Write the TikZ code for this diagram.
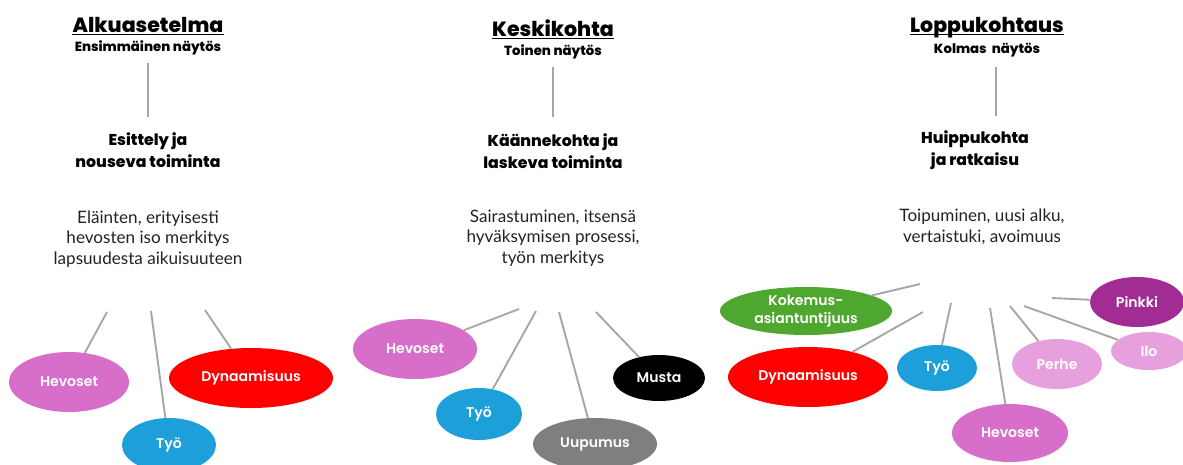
\documentclass[tikz,border=0pt]{standalone}
\usepackage{fontspec}
\setmainfont{Lato}
\newfontfamily\headfont{Poppins ExtraBold}
\newfontfamily\labfont{Poppins SemiBold}
\usetikzlibrary{shapes.geometric}
\definecolor{linegray}{HTML}{A6A6A6}
\definecolor{hevpink}{HTML}{D66ECA}
\definecolor{lightpink}{HTML}{E6A0DE}
\definecolor{purp}{HTML}{A12C94}
\definecolor{grn}{HTML}{4EA72E}
\definecolor{blu}{HTML}{1D9FDA}
\definecolor{rd}{HTML}{FF0000}
\definecolor{gry}{HTML}{7F7F7F}
\definecolor{bodytext}{HTML}{222222}
\tikzset{
  conn/.style={draw=linegray, line width=1.6pt},
  ulstyle/.style={draw=black, line width=1.5pt},
  bubble/.style 2 args={ellipse, inner sep=0pt, text=white, align=center,
    minimum width=#1*0.03cm, minimum height=#2*0.03cm,
    font=\labfont\fontsize{12}{15}\selectfont},
  titletext/.style={inner sep=0pt, anchor=base, font=\headfont\fontsize{17.5}{20}\selectfont},
  subtext/.style={font=\headfont\fontsize{11.3}{12}\selectfont},
  phasetext/.style={font=\headfont\fontsize{13.4}{18.5}\selectfont, align=center},
  bodytxt/.style={font=\fontsize{14.6}{17.5}\selectfont, align=center, text=bodytext},
}
\begin{document}
\begin{tikzpicture}[x=0.03cm, y=-0.03cm]
\useasboundingbox (0,0) rectangle (1183,464);
\clip (0,0) rectangle (1183,464);

% ---------- Column 1 ----------
\node[titletext] (t1) at (148,32) {Alkuasetelma};
\draw[ulstyle] ([yshift=-2.2pt]t1.base west) -- ([yshift=-2.2pt]t1.base east);
\node[subtext] (s1) at (148,48) {Ensimmäinen näytös};
\coordinate (v1a) at (148,63);
\coordinate (v1b) at (148,117);
\draw[conn] (v1a) -- (v1b);
\node[phasetext] (p1) at (148,150) {Esittely ja\\nouseva toiminta};
\node[bodytxt] (b1) at (148,239) {Eläinten, erityisesti\\hevosten iso merkitys\\lapsuudesta aikuisuuteen};

\node[bubble={120}{60}, fill=hevpink] (hev1) at (69,382) {Hevoset};
\node[bubble={94}{54}, fill=blu] (tyo1) at (169,445) {Työ};
\node[bubble={164}{60}, fill=rd] (dyn1) at (251,378) {Dynaamisuus};
\coordinate (c1a) at (107,312);
\coordinate (c1b) at (151,311);
\coordinate (c1c) at (205,310);
\draw[conn] (c1a) -- (hev1);
\draw[conn] (c1b) -- (tyo1);
\draw[conn] (c1c) -- (dyn1);

% ---------- Column 2 ----------
\node[titletext] (t2) at (553,36) {Keskikohta};
\draw[ulstyle] ([yshift=-2.2pt]t2.base west) -- ([yshift=-2.2pt]t2.base east);
\node[subtext] (s2) at (553,52) {Toinen näytös};
\coordinate (v2a) at (553,67);
\coordinate (v2b) at (553,117);
\draw[conn] (v2a) -- (v2b);
\node[phasetext] (p2) at (553,151) {Käännekohta ja\\laskeva toiminta};
\node[bodytxt] (b2) at (553,238) {Sairastuminen, itsensä\\hyväksymisen prosessi,\\työn merkitys};

\node[bubble={124}{60}, fill=hevpink] (hev2) at (415,349) {Hevoset};
\node[bubble={86}{52}, fill=blu] (tyo2) at (479,414) {Työ};
\node[bubble={124}{52}, fill=gry] (uup2) at (595,444) {Uupumus};
\node[bubble={92}{46}, fill=black] (mus2) at (659,378) {Musta};
\coordinate (c2a) at (519,309);
\coordinate (c2b) at (536,311);
\coordinate (c2c) at (559,312);
\coordinate (c2d) at (596,312);
\draw[conn] (c2a) -- (hev2);
\draw[conn] (c2b) -- (tyo2);
\draw[conn] (c2c) -- (uup2);
\draw[conn] (c2d) -- (mus2);

% ---------- Column 3 ----------
\node[titletext] (t3) at (987,32) {Loppukohtaus};
\draw[ulstyle] ([yshift=-2.2pt]t3.base west) -- ([yshift=-2.2pt]t3.base east);
\node[subtext] (s3) at (987,50) {Kolmas\ \ näytös};
\coordinate (v3a) at (996,67);
\coordinate (v3b) at (996,116);
\draw[conn] (v3a) -- (v3b);
\node[phasetext] (p3) at (975,150) {Huippukohta\\ja ratkaisu};
\node[bodytxt] (b3) at (982,227) {Toipuminen, uusi alku,\\vertaistuki, avoimuus};

\node[bubble={172}{48}, fill=grn] (kok3) at (806,311) {Kokemus-\\asiantuntijuus};
\node[bubble={160}{60}, fill=rd] (dyn3) at (808,377) {Dynaamisuus};
\node[bubble={80}{46}, fill=blu] (tyo3) at (937,368) {Työ};
\node[bubble={116}{58}, fill=hevpink] (hev3) at (1010,433) {Hevoset};
\node[bubble={90}{50}, fill=lightpink] (per3) at (1057,364) {Perhe};
\node[bubble={76}{38}, fill=lightpink] (ilo3) at (1149,351) {Ilo};
\node[bubble={94}{50}, fill=purp] (pin3) at (1137,302) {Pinkki};
\coordinate (c3a) at (920,284);
\coordinate (c3b) at (923,312);
\coordinate (c3c) at (951,303);
\coordinate (c3d) at (990,308);
\coordinate (c3e) at (1010,306);
\coordinate (c3f) at (1024,306);
\coordinate (c3g) at (1052,298);
\draw[conn] (c3a) -- (kok3);
\draw[conn] (c3b) -- (dyn3);
\draw[conn] (c3c) -- (tyo3);
\draw[conn] (c3d) -- (hev3);
\draw[conn] (c3e) -- (per3);
\draw[conn] (c3f) -- (ilo3);
\draw[conn] (c3g) -- (pin3);
\end{tikzpicture}
\end{document}
